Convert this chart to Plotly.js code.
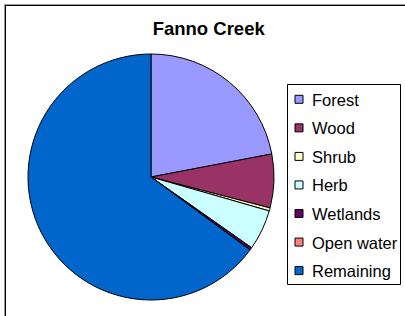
<!DOCTYPE html>
<html>
<head>
<meta charset="utf-8">
<script src="https://cdn.plot.ly/plotly-3.0.1.min.js"></script>
<style>
html,body{margin:0;padding:0;background:#fff;}
#chart{width:405px;height:316px;}
</style>
</head>
<body>
<div id="chart"></div>
<script>
var categories = ["Forest", "Wood", "Shrub", "Herb", "Wetlands", "Open water", "Remaining"];
var values = [22.0, 7.05, 0.4, 5.3, 0.3, 0.05, 64.9];
var colors = ["#9999FF", "#993366", "#FFFFCC", "#CCFFFF", "#660066", "#FF8080", "#0066CC"];
var titleText = "Fanno Creek";

var W = 405, H = 316;
function X(px) { return px / W; }
function Y(py) { return 1 - py / H; }

var trace = {
  type: "pie",
  labels: categories,
  values: values,
  sort: false,
  direction: "clockwise",
  rotation: 0,
  textinfo: "none",
  hoverinfo: "label+percent",
  showlegend: false,
  marker: { colors: colors, line: { color: "#000000", width: 1 } },
  domain: { x: [X(28), X(274)], y: [Y(300), Y(54)] }
};

var shapes = [
  // chart frame (top and left edges visible)
  { type: "line", xref: "paper", yref: "paper", x0: X(4), x1: X(420), y0: Y(4.5), y1: Y(4.5), line: { color: "#9a9a9a", width: 1 } },
  { type: "line", xref: "paper", yref: "paper", x0: X(5), x1: X(420), y0: Y(5.5), y1: Y(5.5), line: { color: "#000000", width: 1 } },
  { type: "line", xref: "paper", yref: "paper", x0: X(4.5), x1: X(4.5), y0: Y(4), y1: Y(330), line: { color: "#9a9a9a", width: 1 } },
  { type: "line", xref: "paper", yref: "paper", x0: X(5.5), x1: X(5.5), y0: Y(5), y1: Y(330), line: { color: "#000000", width: 1 } },
  // legend box
  { type: "rect", xref: "paper", yref: "paper", x0: X(287.5), x1: X(400.5), y0: Y(84.5), y1: Y(284.5), line: { color: "#000000", width: 1 }, fillcolor: "rgba(0,0,0,0)" }
];
var annotations = [];
var legTop = 99.3, legStep = 28.55;
categories.forEach(function (c, i) {
  var cy = legTop + i * legStep;
  shapes.push({ type: "rect", xref: "paper", yref: "paper", x0: X(295), x1: X(303), y0: Y(cy + 4), y1: Y(cy - 4), line: { color: "#000000", width: 1 }, fillcolor: colors[i] });
  annotations.push({ xref: "paper", yref: "paper", x: X(310), y: Y(cy + 0.5), xanchor: "left", yanchor: "middle", showarrow: false, text: c, font: { family: "Liberation Sans, Arial, sans-serif", size: 16.5, color: "#000000" } });
});

var layout = {
  width: W, height: H,
  margin: { l: 0, r: 0, t: 0, b: 0 },
  paper_bgcolor: "#ffffff",
  showlegend: false,
  title: {
    text: "<b>" + titleText + "</b>",
    font: { family: "Liberation Sans, Arial, sans-serif", size: 18.5, color: "#000000" },
    x: X(208.7), xanchor: "center", xref: "paper",
    y: Y(29), yanchor: "middle", yref: "container"
  },
  shapes: shapes,
  annotations: annotations
};

Plotly.newPlot("chart", [trace], layout, { displayModeBar: false, staticPlot: true });
</script>
</body>
</html>
